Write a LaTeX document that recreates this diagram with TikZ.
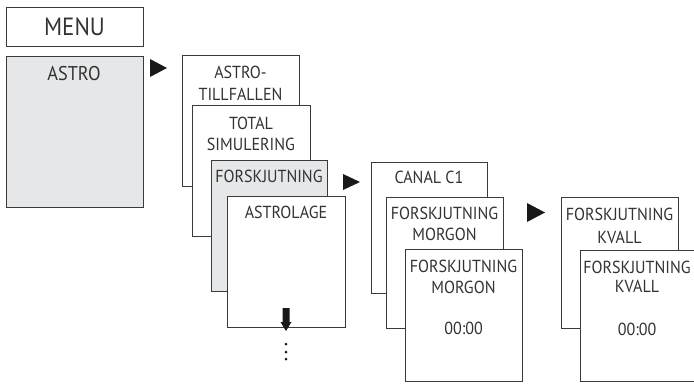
\documentclass[tikz,border=0pt]{standalone}
\usepackage{fontspec}
\setmainfont[FakeStretch=0.92]{PT Sans}
\definecolor{ln}{HTML}{3A3A3A}
\definecolor{tx}{HTML}{333333}
\definecolor{gf}{HTML}{E6E7E9}
\tikzset{
  box/.style={draw=ln, line width=0.9bp, fill=white, rectangle, inner sep=0pt, anchor=north west},
  gbox/.style={box, fill=gf},
  lbl/.style={text=tx, font=\fontsize{17.5}{20}\selectfont, anchor=base, inner sep=0pt},
  big/.style={text=tx, font=\fontsize{25}{28}\selectfont, anchor=base, inner sep=0pt},
  mid/.style={text=tx, font=\fontsize{20}{22}\selectfont, anchor=base, inner sep=0pt},
  tri/.style={fill=black!90},
}
\begin{document}
\begin{tikzpicture}[x=1bp,y=-1bp]
\useasboundingbox (0,0) rectangle (694,383);
% MENU column
\node[box, minimum width=137bp, minimum height=39bp] (menu) at (6,7) {};
\node[big] (menut) at (74.5,35) {MENU};
\node[gbox, minimum width=137bp, minimum height=151bp] (astro) at (6,56) {};
\node[mid] (astrot) at (74,80) {ASTRO};
% second column
\node[box, minimum width=117bp, minimum height=131bp] (at) at (182,55) {};
\node[lbl] (at1) at (240.5,78) {ASTRO-};
\node[lbl] (at2) at (240.5,100) {TILLFALLEN};
\node[box, minimum width=118bp, minimum height=131bp] (ts) at (192,105) {};
\node[lbl] (ts1) at (251,129) {TOTAL};
\node[lbl] (ts2) at (251,150) {SIMULERING};
\node[gbox, minimum width=116bp, minimum height=131bp] (fs) at (211,160) {};
\node[lbl] (fs1) at (269,182) {FORSKJUTNING};
\node[box, minimum width=118bp, minimum height=131bp] (al) at (227,196) {};
\node[lbl] (al1) at (286,218) {ASTROLAGE};
% down arrow and dots
\fill[black!90] (282.5,308) -- (289.5,308) -- (289.5,322) -- (291.5,322) -- (286,331) -- (280.5,322) -- (282.5,322) -- cycle;
\fill[black!90] (286,344) circle (1.5) (286,352) circle (1.5) (286,359) circle (1.5);
% third column
\node[box, minimum width=116bp, minimum height=131bp] (cc) at (371,162) {};
\node[lbl] (cc1) at (429,183) {CANAL C1};
\node[box, minimum width=117bp, minimum height=131bp] (m1) at (386,197) {};
\node[lbl] (m1a) at (444.5,219) {FORSKJUTNING};
\node[lbl] (m1b) at (444.5,240) {MORGON};
\node[box, minimum width=117bp, minimum height=132bp] (m2) at (405,249) {};
\node[lbl] (m2a) at (463.5,272) {FORSKJUTNING};
\node[lbl] (m2b) at (463.5,293) {MORGON};
\node[lbl] (m2c) at (463.5,334) {00:00};
% fourth column
\node[box, minimum width=117bp, minimum height=131bp] (k1) at (561,197) {};
\node[lbl] (k1a) at (619.5,220) {FORSKJUTNING};
\node[lbl] (k1b) at (619.5,243) {KVALL};
\node[box, minimum width=113.5bp, minimum height=131bp] (k2) at (580,250) {};
\node[lbl] (k2a) at (637,273) {FORSKJUTNING};
\node[lbl] (k2b) at (637,292) {KVALL};
\node[lbl] (k2c) at (637,335) {00:00};
% triangles
\fill[tri] (150,59) -- (150,77) -- (167,68) -- cycle;
\fill[tri] (343,174) -- (343,190) -- (360,182) -- cycle;
\fill[tri] (527,203) -- (527,222) -- (545,212.5) -- cycle;
\end{tikzpicture}
\end{document}
